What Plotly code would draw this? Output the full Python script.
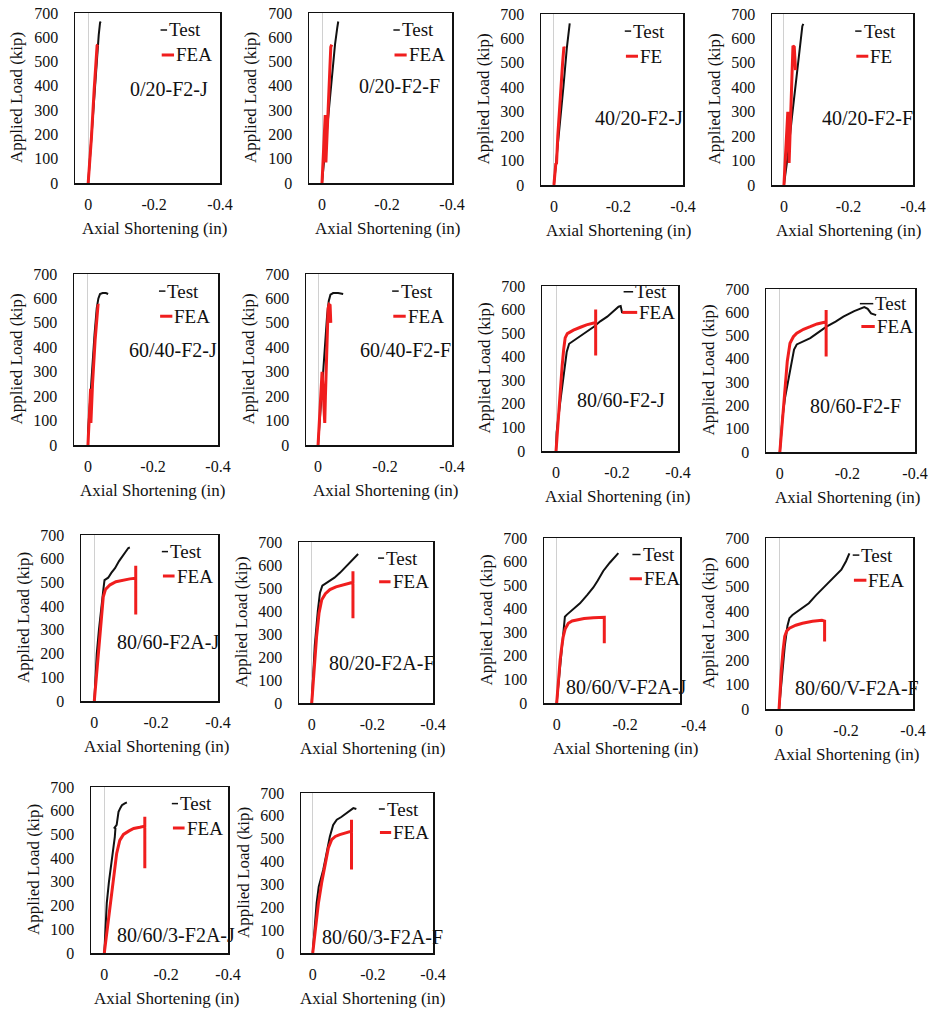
import plotly.graph_objects as go

# ---------------- data ----------------
panel_names = ["0/20-F2-J", "0/20-F2-F", "40/20-F2-J", "40/20-F2-F",
               "60/40-F2-J", "60/40-F2-F", "80/60-F2-J", "80/60-F2-F",
               "80/60-F2A-J", "80/20-F2A-F", "80/60/V-F2A-J", "80/60/V-F2A-F",
               "80/60/3-F2A-J", "80/60/3-F2A-F"]
test_name = "Test"
model_names = ["FEA", "FEA", "FE", "FE", "FEA", "FEA", "FEA", "FEA",
               "FEA", "FEA", "FEA", "FEA", "FEA", "FEA"]
y_tickvals = [0, 100, 200, 300, 400, 500, 600, 700]
x_tickvals = [0, -0.2, -0.4]
x_ticktext = ["0", "-0.2", "-0.4"]
x_title = "Axial Shortening (in)"
y_title = "Applied Load (kip)"

p01_test_x = [0, -0.005, -0.012, -0.02, -0.027, -0.032, -0.036, -0.038]
p01_test_y = [0, 100, 250, 400, 530, 610, 660, 665]
p01_fea_x = [0, -0.005, -0.01, -0.018, -0.024, -0.027, -0.029]
p01_fea_y = [0, 80, 190, 380, 520, 565, 570]

p02_test_x = [0, -0.01, -0.02, -0.03, -0.04, -0.047, -0.05]
p02_test_y = [0, 150, 300, 450, 570, 640, 665]
p02_fea_x = [0, -0.005, -0.01, -0.012, -0.017, -0.022, -0.027, -0.03]
p02_fea_y = [0, 150, 280, 85, 250, 420, 560, 570]

p03_test_x = [0, -0.01, -0.02, -0.03, -0.04, -0.045, -0.047, -0.049]
p03_test_y = [0, 130, 270, 410, 560, 630, 660, 662]
p03_fea_x = [0, -0.006, -0.008, -0.012, -0.02, -0.027, -0.031, -0.033]
p03_fea_y = [0, 90, 85, 200, 380, 500, 565, 560]

p04_test_x = [0, -0.012, -0.025, -0.035, -0.045, -0.052, -0.057, -0.06]
p04_test_y = [0, 120, 280, 400, 520, 600, 650, 660]
p04_fea_x = [0, -0.008, -0.012, -0.016, -0.02, -0.025, -0.028, -0.032, -0.036]
p04_fea_y = [0, 200, 300, 90, 250, 450, 570, 565, 470]

p05_test_x = [0, 0, -0.005, -0.012, -0.02, -0.027, -0.032, -0.037, -0.045, -0.055, -0.062]
p05_test_y = [0, 50, 150, 300, 450, 560, 600, 618, 622, 622, 618]
p05_fea_x = [0, -0.004, -0.008, -0.009, -0.014, -0.022, -0.028, -0.031, -0.033]
p05_fea_y = [0, 100, 230, 90, 250, 430, 560, 575, 572]

p06_test_x = [0, -0.002, -0.01, -0.02, -0.027, -0.032, -0.037, -0.045, -0.06, -0.075]
p06_test_y = [0, 40, 200, 400, 530, 590, 615, 622, 622, 618]
p06_fea_x = [0, -0.006, -0.012, -0.016, -0.02, -0.022, -0.026, -0.03, -0.033, -0.036, -0.038]
p06_fea_y = [0, 150, 300, 200, 90, 200, 400, 560, 575, 572, 500]

p07_test_x = [0, -0.002, -0.015, -0.028, -0.035, -0.043, -0.06, -0.08, -0.1, -0.124,
              -0.145, -0.168, -0.19, -0.205, -0.212, -0.215, -0.217]
p07_test_y = [0, 80, 220, 350, 420, 455, 470, 485, 505, 527,
              550, 570, 595, 612, 615, 590, 585]
p07_fea_x = [0, -0.007, -0.014, -0.02, -0.025, -0.03, -0.037, -0.057, -0.08, -0.1,
             -0.13, -0.13, -0.13]
p07_fea_y = [0, 130, 273, 360, 430, 480, 498, 513, 525, 535, 545, 600, 405]

p08_test_x = [0, -0.008, -0.015, -0.03, -0.042, -0.05, -0.07, -0.09, -0.115, -0.138,
              -0.165, -0.188, -0.22, -0.25, -0.26, -0.27, -0.285]
p08_test_y = [0, 150, 230, 352, 440, 462, 475, 489, 515, 538,
              560, 581, 605, 622, 615, 595, 588]
p08_fea_x = [0, -0.007, -0.015, -0.022, -0.03, -0.04, -0.05, -0.07, -0.09, -0.11,
             -0.135, -0.137, -0.137, -0.137]
p08_fea_y = [0, 130, 280, 390, 467, 495, 510, 527, 538, 550, 558, 558, 610, 410]

p09_test_x = [0, -0.004, -0.008, -0.015, -0.022, -0.029, -0.033, -0.045, -0.055, -0.067,
              -0.08, -0.095, -0.11, -0.115]
p09_test_y = [0, 130, 200, 300, 400, 467, 510, 520, 540, 560, 590, 620, 645, 647]
p09_fea_x = [0, -0.009, -0.018, -0.024, -0.029, -0.036, -0.051, -0.07, -0.094, -0.115,
             -0.133, -0.134, -0.134, -0.134]
p09_fea_y = [0, 140, 271, 380, 439, 470, 490, 503, 510, 515, 518, 518, 570, 365]

p10_test_x = [0, -0.005, -0.01, -0.02, -0.027, -0.035, -0.045, -0.06, -0.075, -0.093,
              -0.11, -0.126, -0.145, -0.153]
p10_test_y = [0, 150, 250, 400, 478, 510, 518, 530, 545, 566, 590, 610, 640, 648]
p10_fea_x = [0, -0.008, -0.016, -0.024, -0.033, -0.045, -0.06, -0.08, -0.104, -0.134,
             -0.136, -0.136, -0.136]
p10_fea_y = [0, 150, 289, 390, 449, 475, 493, 505, 515, 525, 525, 573, 368]

p11_test_x = [0, -0.008, -0.015, -0.02, -0.024, -0.03, -0.045, -0.068, -0.09, -0.107,
              -0.12, -0.136, -0.155, -0.18]
p11_test_y = [0, 120, 210, 300, 366, 375, 395, 423, 460, 490, 520, 560, 595, 636]
p11_fea_x = [0, -0.005, -0.01, -0.015, -0.019, -0.025, -0.034, -0.045, -0.058, -0.08,
             -0.107, -0.138, -0.139, -0.139]
p11_fea_y = [0, 100, 181, 240, 281, 315, 338, 348, 352, 358, 362, 364, 364, 253]

p12_test_x = [0, -0.008, -0.017, -0.025, -0.031, -0.04, -0.06, -0.089, -0.11, -0.137,
              -0.16, -0.186, -0.2, -0.21]
p12_test_y = [0, 130, 256, 340, 372, 385, 405, 433, 465, 501, 535, 570, 605, 637]
p12_fea_x = [0, -0.003, -0.007, -0.012, -0.017, -0.023, -0.031, -0.05, -0.07, -0.1,
             -0.128, -0.136, -0.136]
p12_fea_y = [0, 80, 161, 240, 297, 320, 331, 343, 351, 359, 363, 360, 276]

p13_test_x = [0, -0.002, -0.008, -0.015, -0.022, -0.029, -0.034, -0.036, -0.033, -0.04,
              -0.046, -0.052, -0.057, -0.065, -0.073]
p13_test_y = [0, 42, 210, 300, 370, 420, 490, 525, 528, 540, 595, 612, 623, 630, 635]
p13_fea_x = [0, -0.01, -0.019, -0.03, -0.04, -0.05, -0.062, -0.08, -0.095, -0.115,
             -0.13, -0.131, -0.131, -0.131]
p13_fea_y = [0, 105, 210, 320, 420, 475, 500, 515, 525, 530, 535, 535, 575, 357]

p14_test_x = [0, -0.005, -0.013, -0.02, -0.035, -0.045, -0.057, -0.068, -0.08, -0.095,
              -0.113, -0.125, -0.135, -0.145]
p14_test_y = [0, 100, 219, 290, 364, 430, 510, 560, 583, 595, 612, 625, 634, 630]
p14_fea_x = [0, -0.009, -0.019, -0.03, -0.041, -0.052, -0.063, -0.075, -0.09, -0.11,
             -0.124, -0.129, -0.129, -0.129]
p14_fea_y = [0, 100, 219, 310, 394, 460, 496, 510, 518, 527, 532, 533, 583, 365]

tests = [(p01_test_x, p01_test_y), (p02_test_x, p02_test_y), (p03_test_x, p03_test_y),
         (p04_test_x, p04_test_y), (p05_test_x, p05_test_y), (p06_test_x, p06_test_y),
         (p07_test_x, p07_test_y), (p08_test_x, p08_test_y), (p09_test_x, p09_test_y),
         (p10_test_x, p10_test_y), (p11_test_x, p11_test_y), (p12_test_x, p12_test_y),
         (p13_test_x, p13_test_y), (p14_test_x, p14_test_y)]
feas = [(p01_fea_x, p01_fea_y), (p02_fea_x, p02_fea_y), (p03_fea_x, p03_fea_y),
        (p04_fea_x, p04_fea_y), (p05_fea_x, p05_fea_y), (p06_fea_x, p06_fea_y),
        (p07_fea_x, p07_fea_y), (p08_fea_x, p08_fea_y), (p09_fea_x, p09_fea_y),
        (p10_fea_x, p10_fea_y), (p11_fea_x, p11_fea_y), (p12_fea_x, p12_fea_y),
        (p13_fea_x, p13_fea_y), (p14_fea_x, p14_fea_y)]

# ---------------- layout / style ----------------
W, H = 929, 1011
# plot boxes in screen pixels: (left, top, right, bottom)
boxes = [(75, 13, 220, 183), (309, 13, 452, 183), (541, 14, 683, 185), (772, 14, 913, 185),
         (74, 274, 218, 445), (306, 274, 452, 445), (542, 286, 678, 451), (766, 289, 915, 452),
         (81, 535, 218, 701), (299, 542, 433, 703), (544, 538, 680, 703), (766, 538, 913, 709),
         (91, 787, 228, 953), (301, 793, 433, 953)]
x_ranges = [[0.040, -0.40], [0.040, -0.40], [0.040, -0.40], [0.037, -0.40],
            [0.043, -0.40], [0.036, -0.40], [0.046, -0.40], [0.041, -0.40],
            [0.043, -0.40], [0.042, -0.40], [0.037, -0.36], [0.039, -0.40],
            [0.043, -0.40], [0.039, -0.40]]
label_pos = [(0.65, 0.55), (0.63, 0.57), (0.69, 0.39), (0.675, 0.39),
             (0.69, 0.555), (0.68, 0.555), (0.58, 0.31), (0.60, 0.28),
             (0.635, 0.356), (0.62, 0.246), (0.61, 0.097), (0.62, 0.12),
             (0.62, 0.11), (0.62, 0.10)]
leg_y = [(0.90, 0.753)] * 14
leg_y[6] = (0.965, 0.84)
leg_y[7] = (0.91, 0.77)
leg_x = [(0.59, 0.635, 0.598, 0.683)] * 14
leg_x[6] = (0.60, 0.67, 0.59, 0.70)
leg_x[7] = (0.63, 0.72, 0.64, 0.73)
leg_x[10] = (0.65, 0.71, 0.63, 0.72)

FONT = "Liberation Serif, Times New Roman, serif"
INK = "#111111"
RED = "#f01e1e"

fig = go.Figure()
annotations = []
shapes = []
layout = dict(width=W, height=H, margin=dict(l=0, r=0, t=0, b=0, pad=0),
              paper_bgcolor="white", plot_bgcolor="white", showlegend=False,
              font=dict(family=FONT, size=16, color=INK))

for i in range(14):
    n = i + 1
    xa = "x" if n == 1 else f"x{n}"
    ya = "y" if n == 1 else f"y{n}"
    l, t, r, b = boxes[i]
    layout["xaxis" if n == 1 else f"xaxis{n}"] = dict(
        domain=[l / W, r / W], anchor=ya, range=x_ranges[i], automargin=False,
        tickvals=x_tickvals, ticktext=x_ticktext, ticks="", showgrid=False,
        zeroline=True, zerolinecolor="#d0d0d0", zerolinewidth=1,
        showline=True, mirror=True, linecolor=INK, linewidth=1.5,
        ticklabeloverflow="allow",
        ticklabelstandoff=6, tickfont=dict(size=16, family=FONT, color=INK))
    layout["yaxis" if n == 1 else f"yaxis{n}"] = dict(
        domain=[1 - b / H, 1 - t / H], anchor=xa, range=[0, 700], automargin=False,
        tickvals=y_tickvals, ticks="", showgrid=False, zeroline=False,
        showline=True, mirror=True, linecolor=INK, linewidth=1.5,
        ticklabeloverflow="allow",
        ticklabelstandoff=12, tickfont=dict(size=16, family=FONT, color=INK))

    tx, ty = tests[i]
    fx, fy = feas[i]
    fig.add_trace(go.Scatter(x=tx, y=ty, mode="lines", line=dict(color=INK, width=2),
                             xaxis=xa, yaxis=ya, name=test_name))
    fig.add_trace(go.Scatter(x=fx, y=fy, mode="lines", line=dict(color=RED, width=3),
                             xaxis=xa, yaxis=ya, name=model_names[i]))

    # panel label
    annotations.append(dict(text=panel_names[i], xref=f"{xa} domain", yref=f"{ya} domain",
                            x=label_pos[i][0], y=label_pos[i][1], xanchor="center",
                            yanchor="middle", showarrow=False,
                            font=dict(size=20, family=FONT, color=INK)))
    # axis titles
    annotations.append(dict(text=y_title, xref=f"{xa} domain", yref=f"{ya} domain",
                            x=0, y=0.5, xshift=-58, xanchor="center", yanchor="middle",
                            textangle=-90, showarrow=False,
                            font=dict(size=17, family=FONT, color=INK)))
    annotations.append(dict(text=x_title, xref=xa, yref=f"{ya} domain",
                            x=x_tickvals[1], y=0, yshift=-45, xanchor="center",
                            yanchor="middle", showarrow=False,
                            font=dict(size=17, family=FONT, color=INK)))
    # tick label beyond a shortened axis (panel 11 shows -0.4 outside its frame)
    r0, r1 = x_ranges[i]
    if r1 > x_tickvals[-1]:
        frac = (r0 - x_tickvals[-1]) / (r0 - r1)
        annotations.append(dict(text=x_ticktext[-1], xref=f"{xa} domain", yref=f"{ya} domain",
                                x=frac, y=0, yshift=-22, xanchor="center",
                                yanchor="middle", showarrow=False,
                                font=dict(size=16, family=FONT, color=INK)))
    # legend
    tx0, tx1, fx0, fx1 = leg_x[i]
    ly_t, ly_f = leg_y[i]
    shapes.append(dict(type="line", xref=f"{xa} domain", yref=f"{ya} domain",
                       x0=tx0, x1=tx1, y0=ly_t, y1=ly_t, line=dict(color=INK, width=1.5)))
    shapes.append(dict(type="line", xref=f"{xa} domain", yref=f"{ya} domain",
                       x0=fx0, x1=fx1, y0=ly_f, y1=ly_f, line=dict(color=RED, width=3)))
    annotations.append(dict(text=test_name, xref=f"{xa} domain", yref=f"{ya} domain",
                            x=tx1, y=ly_t, xanchor="left", yanchor="middle",
                            showarrow=False, font=dict(size=19, family=FONT, color=INK)))
    annotations.append(dict(text=model_names[i], xref=f"{xa} domain", yref=f"{ya} domain",
                            x=fx1, y=ly_f, xanchor="left", yanchor="middle",
                            showarrow=False, font=dict(size=19, family=FONT, color=INK)))

layout["annotations"] = annotations
layout["shapes"] = shapes
fig.update_layout(**layout)
fig.write_html("out.html",
               config={"displayModeBar": False, "staticPlot": True},
               post_script="document.body.style.margin='0';document.body.style.overflow='hidden';")
